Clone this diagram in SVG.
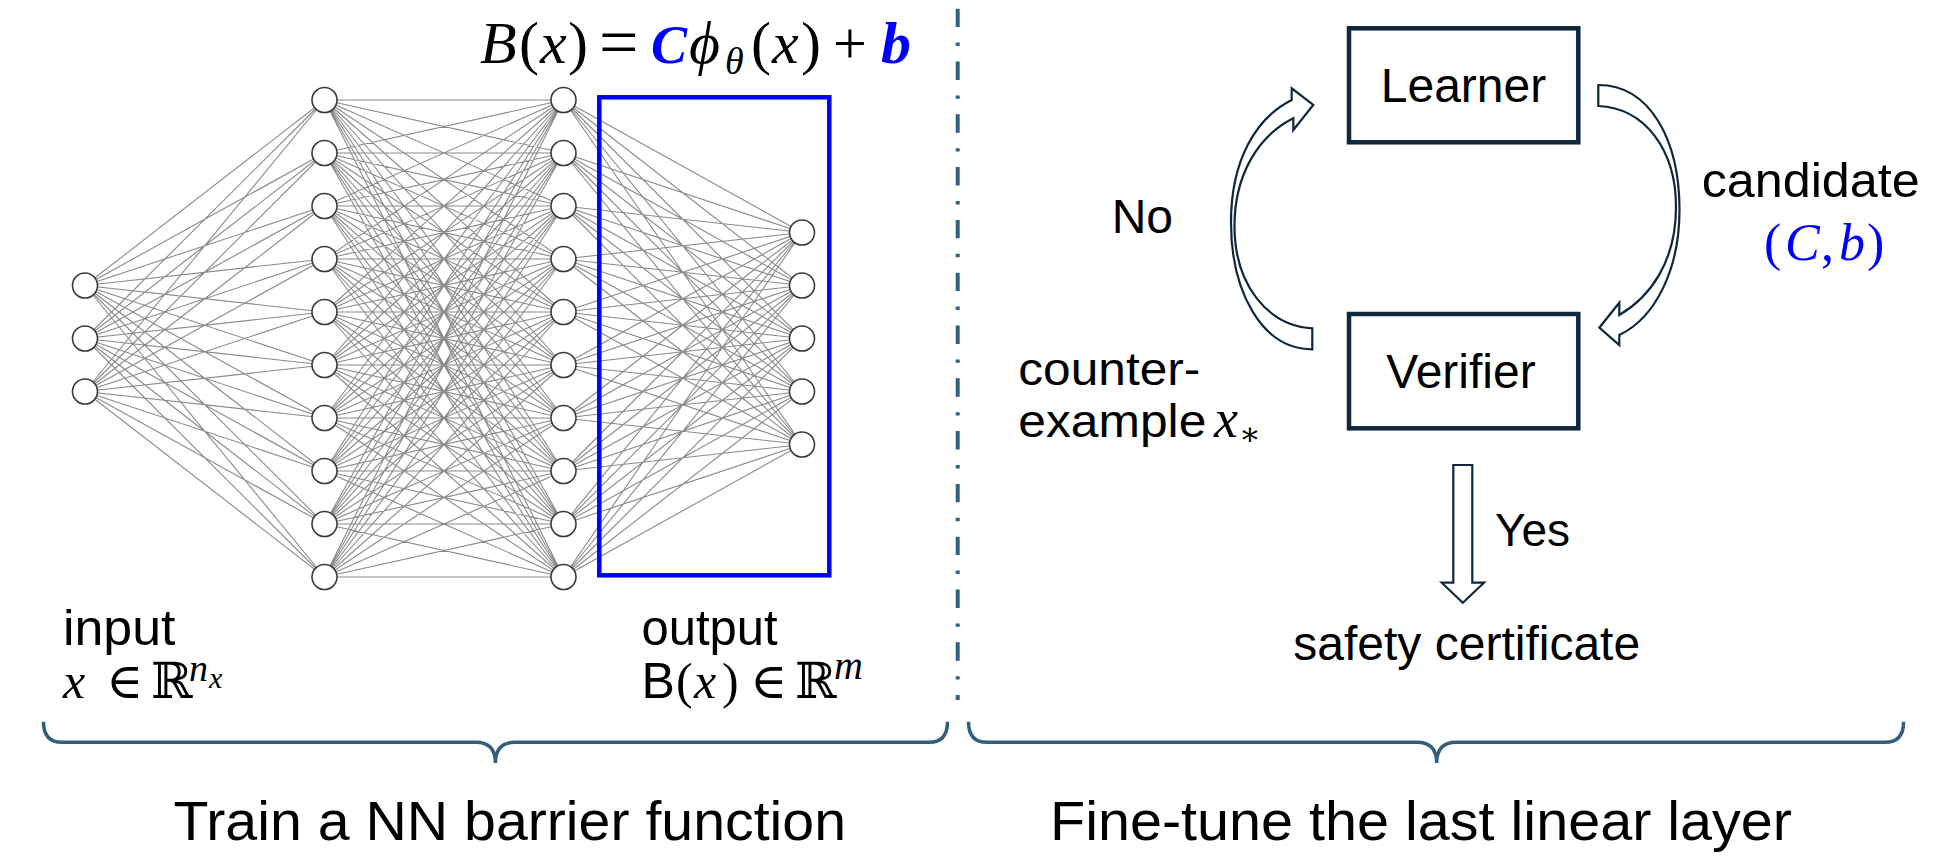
<svg xmlns="http://www.w3.org/2000/svg" width="1942" height="858" viewBox="0 0 1942 858">
<style>
.ln{stroke:#8a8a8a;stroke-width:1.1;fill:none}
.nd{fill:#fff;stroke:#3a3a3a;stroke-width:1.6}
.box{fill:#fff;stroke:#10263B;stroke-width:4.5}
.arr{fill:#fff;stroke:#10263B;stroke-width:2.2;stroke-linejoin:miter}
.brace{fill:none;stroke:#31607F;stroke-width:3.5}
.sans{font-family:"Liberation Sans",Arial,sans-serif;fill:#000}
.math{font-family:"Liberation Serif","DejaVu Serif",serif;font-style:italic;fill:#000}
.blue{fill:#0000FF}
</style>
<rect width="1942" height="858" fill="#fff"/>

<g id="connectors">
<path class="ln" d="M85 285.5L324.5 100M85 285.5L324.5 153M85 285.5L324.5 206M85 285.5L324.5 259M85 285.5L324.5 312M85 285.5L324.5 365M85 285.5L324.5 418M85 285.5L324.5 471M85 285.5L324.5 524M85 285.5L324.5 577
M85 338.5L324.5 100M85 338.5L324.5 153M85 338.5L324.5 206M85 338.5L324.5 259M85 338.5L324.5 312M85 338.5L324.5 365M85 338.5L324.5 418M85 338.5L324.5 471M85 338.5L324.5 524M85 338.5L324.5 577
M85 391.5L324.5 100M85 391.5L324.5 153M85 391.5L324.5 206M85 391.5L324.5 259M85 391.5L324.5 312M85 391.5L324.5 365M85 391.5L324.5 418M85 391.5L324.5 471M85 391.5L324.5 524M85 391.5L324.5 577"/>
<path class="ln" d="M324.5 100L563.5 100M324.5 100L563.5 153M324.5 100L563.5 206M324.5 100L563.5 259M324.5 100L563.5 312M324.5 100L563.5 365M324.5 100L563.5 418M324.5 100L563.5 471M324.5 100L563.5 524M324.5 100L563.5 577
M324.5 153L563.5 100M324.5 153L563.5 153M324.5 153L563.5 206M324.5 153L563.5 259M324.5 153L563.5 312M324.5 153L563.5 365M324.5 153L563.5 418M324.5 153L563.5 471M324.5 153L563.5 524M324.5 153L563.5 577
M324.5 206L563.5 100M324.5 206L563.5 153M324.5 206L563.5 206M324.5 206L563.5 259M324.5 206L563.5 312M324.5 206L563.5 365M324.5 206L563.5 418M324.5 206L563.5 471M324.5 206L563.5 524M324.5 206L563.5 577
M324.5 259L563.5 100M324.5 259L563.5 153M324.5 259L563.5 206M324.5 259L563.5 259M324.5 259L563.5 312M324.5 259L563.5 365M324.5 259L563.5 418M324.5 259L563.5 471M324.5 259L563.5 524M324.5 259L563.5 577
M324.5 312L563.5 100M324.5 312L563.5 153M324.5 312L563.5 206M324.5 312L563.5 259M324.5 312L563.5 312M324.5 312L563.5 365M324.5 312L563.5 418M324.5 312L563.5 471M324.5 312L563.5 524M324.5 312L563.5 577
M324.5 365L563.5 100M324.5 365L563.5 153M324.5 365L563.5 206M324.5 365L563.5 259M324.5 365L563.5 312M324.5 365L563.5 365M324.5 365L563.5 418M324.5 365L563.5 471M324.5 365L563.5 524M324.5 365L563.5 577
M324.5 418L563.5 100M324.5 418L563.5 153M324.5 418L563.5 206M324.5 418L563.5 259M324.5 418L563.5 312M324.5 418L563.5 365M324.5 418L563.5 418M324.5 418L563.5 471M324.5 418L563.5 524M324.5 418L563.5 577
M324.5 471L563.5 100M324.5 471L563.5 153M324.5 471L563.5 206M324.5 471L563.5 259M324.5 471L563.5 312M324.5 471L563.5 365M324.5 471L563.5 418M324.5 471L563.5 471M324.5 471L563.5 524M324.5 471L563.5 577
M324.5 524L563.5 100M324.5 524L563.5 153M324.5 524L563.5 206M324.5 524L563.5 259M324.5 524L563.5 312M324.5 524L563.5 365M324.5 524L563.5 418M324.5 524L563.5 471M324.5 524L563.5 524M324.5 524L563.5 577
M324.5 577L563.5 100M324.5 577L563.5 153M324.5 577L563.5 206M324.5 577L563.5 259M324.5 577L563.5 312M324.5 577L563.5 365M324.5 577L563.5 418M324.5 577L563.5 471M324.5 577L563.5 524M324.5 577L563.5 577"/>
<path class="ln" d="M563.5 100L802 232.5M563.5 100L802 285.5M563.5 100L802 338.5M563.5 100L802 391.5M563.5 100L802 444.5
M563.5 153L802 232.5M563.5 153L802 285.5M563.5 153L802 338.5M563.5 153L802 391.5M563.5 153L802 444.5
M563.5 206L802 232.5M563.5 206L802 285.5M563.5 206L802 338.5M563.5 206L802 391.5M563.5 206L802 444.5
M563.5 259L802 232.5M563.5 259L802 285.5M563.5 259L802 338.5M563.5 259L802 391.5M563.5 259L802 444.5
M563.5 312L802 232.5M563.5 312L802 285.5M563.5 312L802 338.5M563.5 312L802 391.5M563.5 312L802 444.5
M563.5 365L802 232.5M563.5 365L802 285.5M563.5 365L802 338.5M563.5 365L802 391.5M563.5 365L802 444.5
M563.5 418L802 232.5M563.5 418L802 285.5M563.5 418L802 338.5M563.5 418L802 391.5M563.5 418L802 444.5
M563.5 471L802 232.5M563.5 471L802 285.5M563.5 471L802 338.5M563.5 471L802 391.5M563.5 471L802 444.5
M563.5 524L802 232.5M563.5 524L802 285.5M563.5 524L802 338.5M563.5 524L802 391.5M563.5 524L802 444.5
M563.5 577L802 232.5M563.5 577L802 285.5M563.5 577L802 338.5M563.5 577L802 391.5M563.5 577L802 444.5"/>
<path id="arrow-no" class="arr" d="M1312.3 328.3L1312.3 349.3C1262 349.3 1231 292 1231 222C1231 160 1256 118 1291.7 100L1291.7 88.3L1313.3 105L1293.3 130L1293.3 118.3C1258 136 1234.5 175 1234.5 226C1234.5 285 1268 326 1312.3 328.3Z"/>
<path id="arrow-candidate" class="arr" d="M1598.3 85C1650 85 1679.5 140 1679.5 210C1679.5 270 1655 318 1619.3 335L1619.3 345L1599.3 327.7L1619.3 302.7L1619.3 315C1650 297 1676 262 1676 207C1676 150 1645 108 1598.3 106Z"/>
<path id="arrow-yes" class="arr" d="M1453.3 465L1472.3 465L1472.3 582.7L1484 582.7L1462.8 602.7L1441.7 582.7L1453.3 582.7Z"/>
</g>

<g id="nn-input">
<circle class="nd" cx="85" cy="285.5" r="12.5"/><circle class="nd" cx="85" cy="338.5" r="12.5"/><circle class="nd" cx="85" cy="391.5" r="12.5"/>
</g>
<g id="nn-hidden1">
<circle class="nd" cx="324.5" cy="100" r="12.5"/><circle class="nd" cx="324.5" cy="153" r="12.5"/><circle class="nd" cx="324.5" cy="206" r="12.5"/><circle class="nd" cx="324.5" cy="259" r="12.5"/><circle class="nd" cx="324.5" cy="312" r="12.5"/><circle class="nd" cx="324.5" cy="365" r="12.5"/><circle class="nd" cx="324.5" cy="418" r="12.5"/><circle class="nd" cx="324.5" cy="471" r="12.5"/><circle class="nd" cx="324.5" cy="524" r="12.5"/><circle class="nd" cx="324.5" cy="577" r="12.5"/>
</g>
<g id="nn-hidden2">
<circle class="nd" cx="563.5" cy="100" r="12.5"/><circle class="nd" cx="563.5" cy="153" r="12.5"/><circle class="nd" cx="563.5" cy="206" r="12.5"/><circle class="nd" cx="563.5" cy="259" r="12.5"/><circle class="nd" cx="563.5" cy="312" r="12.5"/><circle class="nd" cx="563.5" cy="365" r="12.5"/><circle class="nd" cx="563.5" cy="418" r="12.5"/><circle class="nd" cx="563.5" cy="471" r="12.5"/><circle class="nd" cx="563.5" cy="524" r="12.5"/><circle class="nd" cx="563.5" cy="577" r="12.5"/>
</g>
<g id="nn-output">
<circle class="nd" cx="802" cy="232.5" r="12.5"/><circle class="nd" cx="802" cy="285.5" r="12.5"/><circle class="nd" cx="802" cy="338.5" r="12.5"/><circle class="nd" cx="802" cy="391.5" r="12.5"/><circle class="nd" cx="802" cy="444.5" r="12.5"/>
</g>
<g id="last-layer-box">
<rect x="599.3" y="97.3" width="230" height="478" fill="none" stroke="#0000FF" stroke-width="4.5"/>
</g>

<g id="formula">
<text class="math" y="63" font-size="60"><tspan x="480">B</tspan><tspan x="519" font-style="normal">(</tspan><tspan x="540">x</tspan><tspan x="568" font-style="normal">)</tspan><tspan x="599" y="66" font-style="normal" font-size="70">=</tspan><tspan x="651" y="63" class="blue" font-weight="bold" font-size="54">C</tspan><tspan x="689" y="63">ϕ</tspan><tspan x="725" y="74" font-size="38">θ</tspan><tspan x="751" y="63" font-style="normal">(</tspan><tspan x="772">x</tspan><tspan x="801" font-style="normal">)</tspan><tspan x="833" font-style="normal">+</tspan><tspan x="881" class="blue" font-weight="bold">b</tspan></text>
</g>

<g id="label-input">
<text class="sans" x="63" y="645" font-size="50" textLength="112.5" lengthAdjust="spacingAndGlyphs">input</text>
<text class="math" y="698" font-size="50"><tspan x="63">x</tspan><tspan x="106" font-style="normal">∈</tspan><tspan x="151" font-style="normal">ℝ</tspan><tspan x="189" y="681" font-size="38">n</tspan><tspan x="209" y="688" font-size="30">x</tspan></text>
</g>
<g id="label-output">
<text class="sans" x="641.5" y="645" font-size="50" textLength="136" lengthAdjust="spacingAndGlyphs">output</text>
<text class="math" y="698" font-size="50"><tspan x="641.5" font-style="normal" font-family="Liberation Sans">B</tspan><tspan x="676" font-style="normal">(</tspan><tspan x="694">x</tspan><tspan x="722" font-style="normal">)</tspan><tspan x="750" font-style="normal">∈</tspan><tspan x="795" font-style="normal">ℝ</tspan><tspan x="834" y="679" font-size="40">m</tspan></text>
</g>

<g id="divider">
<line x1="957.7" y1="8.7" x2="957.7" y2="700" stroke="#31607F" stroke-width="4" stroke-dasharray="18.4 15.5 3.4 15.5"/>
</g>

<g id="brace-left">
<path class="brace" d="M43.5 721.7Q43.5 742.3 62 742.3L476 742.3Q495.4 742.3 495.4 763Q495.4 742.3 515 742.3L929 742.3Q947.5 742.3 947.5 721.7"/>
<text class="sans" x="173.4" y="840" font-size="55" textLength="672.6" lengthAdjust="spacingAndGlyphs">Train a NN barrier function</text>
</g>
<g id="brace-right">
<path class="brace" stroke-width="4" d="M968.5 721.7Q968.5 742.3 987 742.3L1417 742.3Q1436.7 742.3 1436.7 763Q1436.7 742.3 1456 742.3L1885 742.3Q1903.6 742.3 1903.6 721.7"/>
<text class="sans" x="1050" y="840" font-size="55" textLength="742" lengthAdjust="spacingAndGlyphs">Fine-tune the last linear layer</text>
</g>

<g id="learner">
<rect class="box" x="1349" y="28.3" width="229.3" height="114"/>
<text class="sans" x="1463.5" y="101.7" font-size="48" text-anchor="middle">Learner</text>
</g>
<g id="verifier">
<rect class="box" x="1349" y="314" width="229.3" height="114.3"/>
<text class="sans" x="1461" y="388.3" font-size="48" text-anchor="middle">Verifier</text>
</g>

<g id="label-no">
<text class="sans" x="1111.7" y="233.3" font-size="48">No</text>
</g>
<g id="label-counterexample">
<text class="sans" x="1018.3" y="385" font-size="46" textLength="182" lengthAdjust="spacingAndGlyphs">counter-</text>
<text class="sans" x="1018.3" y="437" font-size="46" textLength="188" lengthAdjust="spacingAndGlyphs">example</text>
<text class="math" y="437" font-size="54"><tspan x="1214">x</tspan><tspan x="1239" y="445" font-size="32" font-style="normal">∗</tspan></text>
</g>
<g id="label-candidate">
<text class="sans" x="1701.7" y="196.7" font-size="48" textLength="218" lengthAdjust="spacingAndGlyphs">candidate</text>
<text class="math blue" y="260" font-size="52"><tspan x="1764" font-style="normal">(</tspan><tspan x="1785">C</tspan><tspan x="1821" font-style="normal">,</tspan><tspan x="1839">b</tspan><tspan x="1867" font-style="normal">)</tspan></text>
</g>
<g id="label-yes">
<text class="sans" x="1495" y="546" font-size="46">Yes</text>
</g>
<g id="safety-certificate">
<text class="sans" x="1293.3" y="660" font-size="48">safety certificate</text>
</g>
</svg>
